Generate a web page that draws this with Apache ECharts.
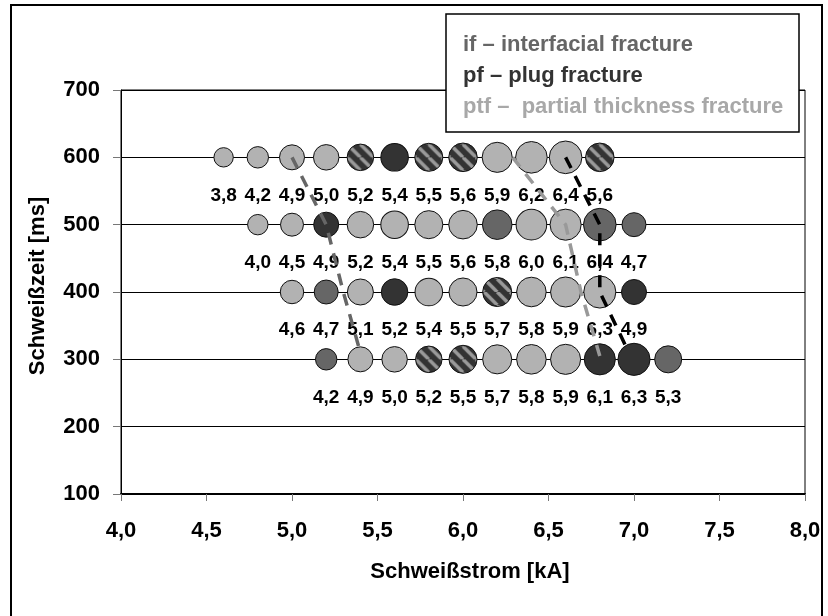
<!DOCTYPE html>
<html>
<head>
<meta charset="utf-8">
<script src="https://cdn.jsdelivr.net/npm/echarts@6/dist/echarts.min.js"></script>
<style>
html,body{margin:0;padding:0;background:#fff;}
#chart{width:828px;height:616px;}
</style>
</head>
<body>
<div id="chart"></div>
<script>
// ---- data ----
const xMin = 4.0, xMax = 8.0, xStep = 0.5;
const yMin = 100, yMax = 700, yStep = 100;

const current600 = [4.6, 4.8, 5.0, 5.2, 5.4, 5.6, 5.8, 6.0, 6.2, 6.4, 6.6, 6.8];
const size600    = [3.8, 4.2, 4.9, 5.0, 5.2, 5.4, 5.5, 5.6, 5.9, 6.2, 6.4, 5.6];
const type600    = ['ptf','ptf','ptf','ptf','mix','pf','mix','mix','ptf','ptf','ptf','mix'];

const current500 = [4.8, 5.0, 5.2, 5.4, 5.6, 5.8, 6.0, 6.2, 6.4, 6.6, 6.8, 7.0];
const size500    = [4.0, 4.5, 4.9, 5.2, 5.4, 5.5, 5.6, 5.8, 6.0, 6.1, 6.4, 4.7];
const type500    = ['ptf','ptf','pf','ptf','ptf','ptf','ptf','if','ptf','ptf','if','if'];

const current400 = [5.0, 5.2, 5.4, 5.6, 5.8, 6.0, 6.2, 6.4, 6.6, 6.8, 7.0];
const size400    = [4.6, 4.7, 5.1, 5.2, 5.4, 5.5, 5.7, 5.8, 5.9, 6.3, 4.9];
const type400    = ['ptf','if','ptf','pf','ptf','ptf','mix','ptf','ptf','ptf','pf'];

const current300 = [5.2, 5.4, 5.6, 5.8, 6.0, 6.2, 6.4, 6.6, 6.8, 7.0, 7.2];
const size300    = [4.2, 4.9, 5.0, 5.2, 5.5, 5.7, 5.8, 5.9, 6.1, 6.3, 5.3];
const type300    = ['if','ptf','ptf','mix','mix','ptf','ptf','ptf','pf','pf','if'];

// boundary lines (current [kA], time [ms])
const boundaryIfX  = [5.0, 5.2, 5.3, 5.4];
const boundaryIfY  = [600, 500, 400, 310];
const boundaryPtfX = [6.29, 6.6, 6.69, 6.8];
const boundaryPtfY = [600, 500, 400, 305];
const boundaryPfX  = [6.6, 6.8, 6.8, 6.97];
const boundaryPfY  = [600, 500, 400, 310];

const legendLines = ['if \u2013 interfacial fracture', 'pf \u2013 plug fracture', 'ptf \u2013  partial thickness fracture'];
const xTitle = 'Schweißstrom [kA]';
const yTitle = 'Schweißzeit [ms]';

// ---- styling ----
const FONT = '"Liberation Sans", Arial, Helvetica, sans-serif';
const BUBBLE_SCALE = 5.1;
function stripeCanvas(){
  const p = 13;
  const c = document.createElement('canvas');
  c.width = p; c.height = p;
  const g = c.getContext('2d');
  g.fillStyle = '#333333';
  g.fillRect(0, 0, p, p);
  g.strokeStyle = '#9a9a9a';
  g.lineWidth = 3.5;
  for (let k = -1; k <= 1; k++) {
    g.beginPath();
    g.moveTo(k * p, 0);
    g.lineTo(k * p + p, p);
    g.stroke();
  }
  return c;
}
const stripeImg = stripeCanvas();
const typeColor = {ptf: '#b2b2b2', if: '#666666', pf: '#333333'};
function fillFor(type, symbolSize){
  if (type === 'mix') {
    // symbols are drawn in a unit space scaled by size/2: compensate the pattern
    const s = 2 / symbolSize;
    return {image: stripeImg, repeat: 'repeat', scaleX: s, scaleY: s};
  }
  return typeColor[type];
}

function fmt(v){ return v.toFixed(1).replace('.', ','); }

function rowSeries(xs, sizes, types, y){
  return {
    type: 'scatter',
    z: 3,
    data: xs.map((x, i) => {
      const sz = sizes[i] * BUBBLE_SCALE;
      return {
        value: [x, y, sizes[i]],
        symbolSize: sz,
        itemStyle: {color: fillFor(types[i], sz), borderColor: '#111', borderWidth: 1, opacity: 1}
      };
    }),
    label: {
      show: true,
      position: 'inside',
      offset: [0, 38],
      formatter: p => fmt(p.value[2]),
      fontFamily: FONT,
      fontWeight: 'bold',
      fontSize: 19,
      color: '#000'
    },
    emphasis: {disabled: true},
    animation: false
  };
}
function lineSeries(xs, ys, color){
  return {
    type: 'line',
    z: 6,
    data: xs.map((x, i) => [x, ys[i]]),
    symbol: 'none',
    lineStyle: {color: color, width: 3.5, type: [12, 9]},
    emphasis: {disabled: true},
    animation: false
  };
}

const chart = echarts.init(document.getElementById('chart'), null, {renderer: 'canvas'});
chart.setOption({
  animation: false,
  backgroundColor: '#fff',
  grid: {left: 121, right: 23, top: 90, bottom: 122, show: true, borderColor: '#000', borderWidth: 1, backgroundColor: '#fff'},
  xAxis: {
    type: 'value', min: xMin, max: xMax, interval: xStep,
    axisLine: {show: true, onZero: false, lineStyle: {color: '#000', width: 2}},
    axisTick: {show: true, length: 7, lineStyle: {color: '#777', width: 1}},
    splitLine: {show: false},
    axisLabel: {formatter: v => fmt(v), margin: 26, fontFamily: FONT, fontWeight: 'bold', fontSize: 22, color: '#000'}
  },
  yAxis: {
    type: 'value', min: yMin, max: yMax, interval: yStep,
    axisLine: {show: true, onZero: false, lineStyle: {color: '#000', width: 1}},
    axisTick: {show: true, length: 8, lineStyle: {color: '#777', width: 1}},
    splitLine: {show: true, lineStyle: {color: '#000', width: 1}},
    axisLabel: {margin: 21, fontFamily: FONT, fontWeight: 'bold', fontSize: 22, color: '#000'}
  },
  series: [
    rowSeries(current600, size600, type600, 600),
    rowSeries(current500, size500, type500, 500),
    rowSeries(current400, size400, type400, 400),
    rowSeries(current300, size300, type300, 300),
    lineSeries(boundaryIfX, boundaryIfY, '#666'),
    lineSeries(boundaryPtfX, boundaryPtfY, '#999'),
    lineSeries(boundaryPfX, boundaryPfY, '#000')
  ],
  graphic: [
    {type: 'rect', z: 100, shape: {x: 11, y: 5, width: 811, height: 700}, style: {fill: 'none', stroke: '#000', lineWidth: 2}},
    {type: 'rect', z: 100, shape: {x: 446, y: 14, width: 353, height: 118}, style: {fill: '#fff', stroke: '#000', lineWidth: 1.5}},
    {type: 'text', z: 101, x: 463, y: 45, style: {text: legendLines[0], fill: '#666', font: 'bold 22px ' + FONT, verticalAlign: 'middle'}},
    {type: 'text', z: 101, x: 463, y: 76, style: {text: legendLines[1], fill: '#333', font: 'bold 22px ' + FONT, verticalAlign: 'middle'}},
    {type: 'text', z: 101, x: 463, y: 107, style: {text: legendLines[2], fill: '#a8a8a8', font: 'bold 22px ' + FONT, verticalAlign: 'middle'}},
    {type: 'text', z: 101, x: 470, y: 572, style: {text: xTitle, fill: '#000', font: 'bold 22px ' + FONT, align: 'center', verticalAlign: 'middle'}},
    {type: 'text', z: 101, x: 38, y: 286, rotation: Math.PI / 2, style: {text: yTitle, fill: '#000', font: 'bold 22px ' + FONT, align: 'center', verticalAlign: 'middle'}}
  ]
});
</script>
</body>
</html>
